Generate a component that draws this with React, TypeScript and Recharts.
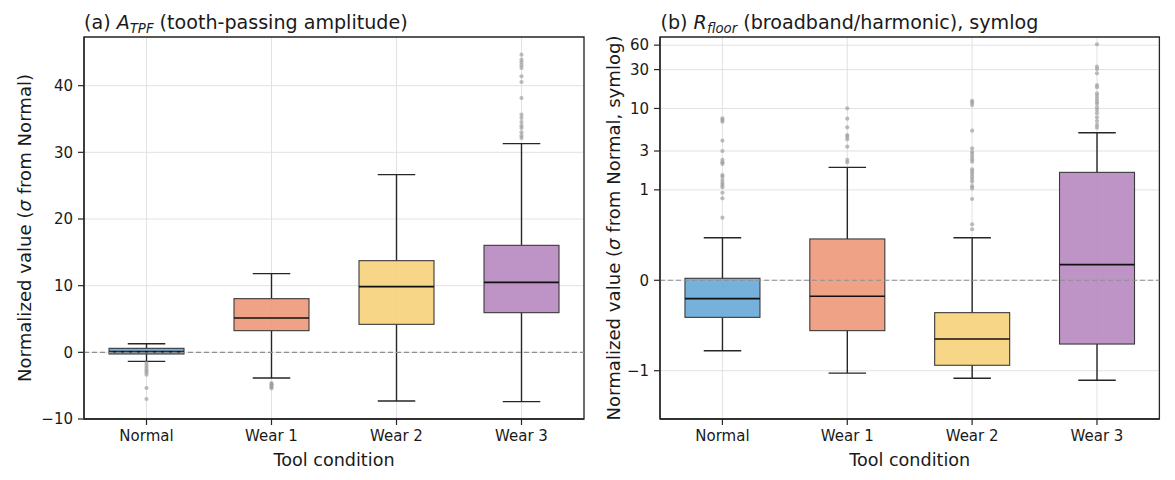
import React from 'react';
import {
  ComposedChart,
  Bar,
  Scatter,
  XAxis,
  YAxis,
  CartesianGrid,
  ReferenceLine,
  ReferenceArea,
} from 'recharts';

// ---------------- data ----------------
const categories = ['Normal', 'Wear 1', 'Wear 2', 'Wear 3'];
const boxColors = ['#6aaad9', '#ee9a7b', '#f6d27d', '#b98ac1'];

// Panel (a) A_TPF box statistics
const aLow = [-1.35, -3.85, -7.3, -7.4];
const aQ1 = [-0.25, 3.25, 4.2, 5.95];
const aMed = [0.1, 5.15, 9.85, 10.5];
const aQ3 = [0.6, 8.05, 13.75, 16.05];
const aHigh = [1.28, 11.8, 26.65, 31.3];
const aOutNormal = [-1.6, -2.0, -2.35, -2.7, -3.0, -3.35, -5.35, -7.0];
const aOutWear1 = [-4.6, -4.8, -5.0, -5.2, -5.4];
const aOutWear2: number[] = [];
const aOutWear3 = [44.65, 43.9, 43.5, 43.05, 42.65, 41.4, 40.55, 38.15, 35.65, 35.15, 34.55, 34.0, 33.65, 33.0, 32.5, 32.15];
const aTicks = [-10, 0, 10, 20, 30, 40];
const aDomain = [-10, 47.3];

// Panel (b) R_floor box statistics (symlog axis)
const bLow = [-0.78, -1.07, -1.24, -1.31];
const bQ1 = [-0.41, -0.557, -0.94, -0.705];
const bMed = [-0.203, -0.177, -0.649, 0.173];
const bQ3 = [0.022, 0.457, -0.358, 1.64];
const bHigh = [0.471, 1.89, 0.47, 5.04];
const bOutNormal = [7.57, 7.21, 6.87, 4.02, 3.0, 2.33, 2.18, 2.08, 1.52, 1.45, 1.32, 1.22, 1.15, 1.08, 0.968, 0.906, 0.692];
const bOutWear1 = [10.05, 7.48, 5.87, 4.72, 4.5, 4.18, 3.39, 2.33, 2.18];
const bOutWear2 = [12.4, 11.8, 11.0, 5.33, 3.24, 2.94, 2.76, 2.55, 2.37, 2.22, 1.79, 1.67, 1.57, 1.45, 1.36, 1.26, 1.11, 1.04, 0.899, 0.619, 0.564];
const bOutWear3 = [61.4, 32.6, 30.5, 27.0, 19.4, 18.2, 15.3, 14.2, 13.1, 12.1, 11.4, 10.3, 9.57, 8.73, 7.78, 7.01, 6.27, 5.81];
const bTicks = [-1, 0, 1, 3, 10, 30, 60];
const bDomain = [-3.92, 75.5];

// ---------------- helpers ----------------
const FONT = "'DejaVu Sans', 'Liberation Sans', sans-serif";
const EDGE = '#262626';
const GRID = '#e2e2e2';
const TEXT = '#1a1a1a';

function buildRows(low: number[], q1: number[], med: number[], q3: number[], high: number[]) {
  return categories.map((cat, i) => ({ cat, color: boxColors[i], low: low[i], q1: q1[i], med: med[i], q3: q3[i], high: high[i] }));
}
function buildOutliers(lists: number[][]) {
  const out: { cat: string; v: number }[] = [];
  lists.forEach((l, i) => l.forEach((v) => out.push({ cat: categories[i], v })));
  return out;
}
const aRows = buildRows(aLow, aQ1, aMed, aQ3, aHigh);
const aOuts = buildOutliers([aOutNormal, aOutWear1, aOutWear2, aOutWear3]);
const bRows = buildRows(bLow, bQ1, bMed, bQ3, bHigh);
const bOuts = buildOutliers([bOutNormal, bOutWear1, bOutWear2, bOutWear3]);

// matplotlib-like symlog transform (linthresh=1, base=10, linscale=1)
const LINT = 1;
const ADJ = 1 / (1 - 1 / 10);
function symF(v: number) {
  const a = Math.abs(v);
  return a <= LINT ? v * ADJ : Math.sign(v) * LINT * (ADJ + Math.log10(a / LINT));
}
function symInv(t: number) {
  const a = Math.abs(t);
  return a <= LINT * ADJ ? t / ADJ : Math.sign(t) * LINT * Math.pow(10, a / LINT - ADJ);
}
function makeSymlogScale(dom: number[] = [0, 1], rng: number[] = [0, 1]): any {
  let d = dom.slice();
  let r = rng.slice();
  const s: any = (v: any) => {
    const t0 = symF(d[0]);
    const t1 = symF(d[d.length - 1]);
    return r[0] + ((symF(Number(v)) - t0) / (t1 - t0)) * (r[r.length - 1] - r[0]);
  };
  s.domain = (x?: any[]) => { if (x === undefined) return d.slice(); d = x.map(Number); return s; };
  s.range = (x?: any[]) => { if (x === undefined) return r.slice(); r = x.map(Number); return s; };
  s.copy = () => makeSymlogScale(d, r);
  s.invert = (p: number) => {
    const t0 = symF(d[0]);
    const t1 = symF(d[d.length - 1]);
    return symInv(t0 + ((p - r[0]) / (r[r.length - 1] - r[0])) * (t1 - t0));
  };
  s.ticks = () => bTicks.slice();
  s.tickFormat = () => (v: any) => String(v);
  s.nice = () => s;
  s.clamp = () => s;
  s.unknown = () => s;
  return s;
}
const symlogScale = makeSymlogScale();

const fmt = (v: number) => (v < 0 ? `\u2212${Math.abs(v)}` : String(v));

function span(p: any) {
  const top = Math.min(p.y, p.y + p.height);
  const bot = Math.max(p.y, p.y + p.height);
  return { top, bot, cx: p.x + p.width / 2 };
}
const LowerWhisker = (p: any) => {
  if (p.x == null || p.y == null) return null;
  const { top, bot, cx } = span(p);
  const hw = p.width / 4;
  return (
    <g>
      <line x1={cx} x2={cx} y1={top} y2={bot} stroke={EDGE} strokeWidth={1.4} />
      <line x1={cx - hw} x2={cx + hw} y1={bot} y2={bot} stroke={EDGE} strokeWidth={1.4} />
    </g>
  );
};
const UpperWhisker = (p: any) => {
  if (p.x == null || p.y == null) return null;
  const { top, bot, cx } = span(p);
  const hw = p.width / 4;
  return (
    <g>
      <line x1={cx} x2={cx} y1={top} y2={bot} stroke={EDGE} strokeWidth={1.4} />
      <line x1={cx - hw} x2={cx + hw} y1={top} y2={top} stroke={EDGE} strokeWidth={1.4} />
    </g>
  );
};
const BoxShape = (p: any) => {
  if (p.x == null || p.y == null) return null;
  const { top, bot } = span(p);
  return <rect x={p.x} y={top} width={p.width} height={Math.max(bot - top, 0.5)} fill={p.payload?.color} fillOpacity={0.92} stroke="#3a3a3a" strokeWidth={1.1} />;
};
const MedianShape = (p: any) => {
  if (p.x == null || p.y == null) return null;
  const y = p.y + (p.height || 0) / 2;
  return <line x1={p.x} x2={p.x + p.width} y1={y} y2={y} stroke="#111" strokeWidth={1.6} />;
};
const OutlierDot = (p: any) => {
  if (p.cx == null || p.cy == null) return null;
  return <circle cx={p.cx} cy={p.cy} r={2.1} fill="#9a9a9a" fillOpacity={0.65} />;
};

const tickStyle = { fontSize: 15, fill: TEXT, fontFamily: FONT };

function BoxPanel(props: any) {
  const { rows, outs, domain, ticks, scale, left, width, yWidth, rightMargin } = props;
  return (
    <div style={{ position: 'absolute', left, top: 0 }}>
      <ComposedChart width={width} height={480} data={rows} barCategoryGap="20%" margin={{ top: 37, right: rightMargin, bottom: 21, left: 0 }}>
        <CartesianGrid xAxisId="main" yAxisId="y" stroke={GRID} strokeWidth={1} />
        <XAxis xAxisId="main" dataKey="cat" type="category" allowDuplicatedCategory={false} interval={0} height={40} tickSize={6} tickMargin={5} tick={tickStyle} tickLine={{ stroke: EDGE, strokeWidth: 1.2 }} axisLine={{ stroke: EDGE, strokeWidth: 1.3 }} />
        <XAxis xAxisId="wl" dataKey="cat" type="category" hide />
        <XAxis xAxisId="wh" dataKey="cat" type="category" hide />
        <XAxis xAxisId="md" dataKey="cat" type="category" hide />
        <YAxis yAxisId="y" type="number" dataKey="v" domain={domain} allowDataOverflow ticks={ticks} interval={0} scale={scale} width={yWidth} tickSize={6} tickMargin={5} tickFormatter={fmt} tick={tickStyle} tickLine={{ stroke: EDGE, strokeWidth: 1.2 }} axisLine={{ stroke: EDGE, strokeWidth: 1.3 }} />
        <ReferenceLine xAxisId="main" yAxisId="y" y={0} stroke="#8f8f8f" strokeWidth={1.1} strokeDasharray="5 3" />
        <Bar xAxisId="wl" yAxisId="y" dataKey={(d: any) => [d.low, d.q1]} shape={LowerWhisker} isAnimationActive={false} />
        <Bar xAxisId="wh" yAxisId="y" dataKey={(d: any) => [d.q3, d.high]} shape={UpperWhisker} isAnimationActive={false} />
        <Bar xAxisId="main" yAxisId="y" dataKey={(d: any) => [d.q1, d.q3]} shape={BoxShape} isAnimationActive={false} />
        <Bar xAxisId="md" yAxisId="y" dataKey={(d: any) => [d.med, d.med]} shape={MedianShape} isAnimationActive={false} />
        <Scatter xAxisId="main" yAxisId="y" data={outs} shape={OutlierDot} isAnimationActive={false} />
        <ReferenceArea xAxisId="main" yAxisId="y" x1={categories[0]} x2={categories[categories.length - 1]} y1={domain[0]} y2={domain[1]} fill="none" fillOpacity={0} stroke={EDGE} strokeWidth={1.3} ifOverflow="visible" />
      </ComposedChart>
    </div>
  );
}

export default function App() {
  return (
    <div style={{ position: 'absolute', left: 0, top: 0, width: 1175, height: 480, background: '#fff', fontFamily: FONT, overflow: 'hidden' }}>
      <BoxPanel rows={aRows} outs={aOuts} domain={aDomain} ticks={aTicks} scale="linear" left={0} width={600} yWidth={84} rightMargin={16} />
      <BoxPanel rows={bRows} outs={bOuts} domain={bDomain} ticks={bTicks} scale={symlogScale} left={580} width={595} yWidth={80} rightMargin={15.6} />
      <svg width={1175} height={480} style={{ position: 'absolute', left: 0, top: 0, pointerEvents: 'none' }} fontFamily={FONT} fill={TEXT}>
        <text x={84} y={29} fontSize={19.1}>
          {'(a) '}
          <tspan fontStyle="italic">A</tspan>
          <tspan fontStyle="italic" fontSize={13.3} dy={3.5}>TPF</tspan>
          <tspan dy={-3.5}>{' (tooth-passing amplitude)'}</tspan>
        </text>
        <text x={660.5} y={29} fontSize={19.1}>
          {'(b) '}
          <tspan fontStyle="italic">R</tspan>
          <tspan fontStyle="italic" fontSize={13.3} dy={3.5}>floor</tspan>
          <tspan dy={-3.5}>{' (broadband/harmonic), symlog'}</tspan>
        </text>
        <text transform="translate(30.5,228) rotate(-90)" textAnchor="middle" fontSize={18.1}>
          {'Normalized value ('}
          <tspan fontStyle="italic">σ</tspan>
          {' from Normal)'}
        </text>
        <text transform="translate(619.5,228) rotate(-90)" textAnchor="middle" fontSize={18.1}>
          {'Normalized value ('}
          <tspan fontStyle="italic">σ</tspan>
          {' from Normal, symlog)'}
        </text>
        <text x={334} y={466} textAnchor="middle" fontSize={17.6}>Tool condition</text>
        <text x={909.7} y={466} textAnchor="middle" fontSize={17.6}>Tool condition</text>
      </svg>
    </div>
  );
}
